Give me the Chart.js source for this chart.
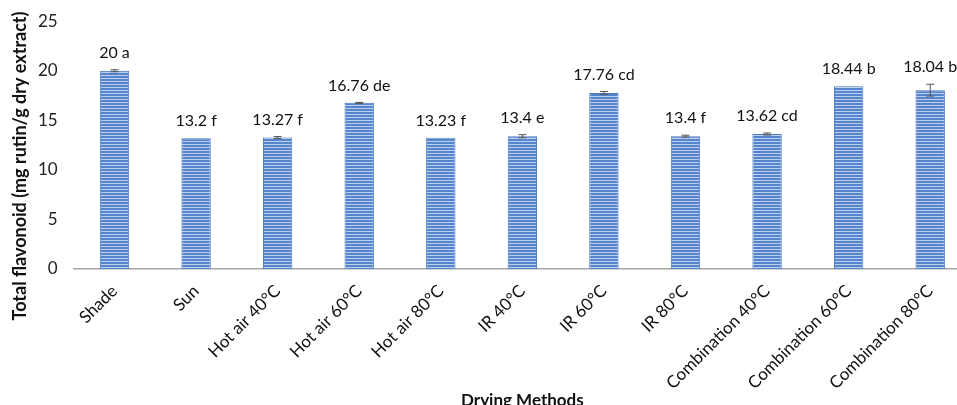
<!DOCTYPE html>
<html>
<head>
<meta charset="utf-8">
<script src="https://cdn.jsdelivr.net/npm/chart.js@4.4.1/dist/chart.umd.min.js"></script>
<style>
html,body{margin:0;padding:0;background:#fff;overflow:hidden;}
#wrap{width:975px;height:416px;margin-top:-5px;}
</style>
</head>
<body>
<div id="wrap"><canvas id="c" width="975" height="416"></canvas></div>
<script>
const categories = ['Shade','Sun','Hot air 40°C','Hot air 60°C','Hot air 80°C','IR 40°C','IR 60°C','IR 80°C','Combination 40°C','Combination 60°C','Combination 80°C'];
const values = [20, 13.2, 13.27, 16.76, 13.23, 13.4, 17.76, 13.4, 13.62, 18.44, 18.04];
const errors = [0.1, 0, 0.1, 0.05, 0, 0.15, 0.15, 0.1, 0.1, 0, 0.6];
const letters = ['a','f','f','de','f','e','cd','f','cd','b','b'];
const yTicks = [0, 5, 10, 15, 20, 25];
const yTitle = 'Total flavonoid (mg rutin/g dry extract)';
const xTitle = 'Drying Methods';

const FONT = 'Lato, "Open Sans", sans-serif';

const ctx0 = document.getElementById('c').getContext('2d');
const pat = ctx0.createPattern((function(){
  const p = document.createElement('canvas');
  p.width = 4; p.height = 3;
  const g = p.getContext('2d');
  g.fillStyle = '#5585cc';
  g.fillRect(0,0,4,3);
  g.fillStyle = '#bcd0ee';
  g.fillRect(0,2,4,1);
  return p;
})(),'repeat');

const errorAndLabels = {
  id: 'errorAndLabels',
  afterDatasetsDraw(chart){
    const ctx = chart.ctx;
    const meta = chart.getDatasetMeta(0);
    const ys = chart.scales.y;
    ctx.save();
    meta.data.forEach((bar, i) => {
      const v = values[i], e = errors[i];
      const x = bar.x;
      const yTop = ys.getPixelForValue(v + e);
      const yBot = ys.getPixelForValue(v - e);
      if (e > 0) {
        ctx.strokeStyle = '#555';
        ctx.lineWidth = 1;
        ctx.beginPath();
        ctx.moveTo(x, yTop); ctx.lineTo(x, yBot);
        ctx.moveTo(x - 4, yTop); ctx.lineTo(x + 4, yTop);
        ctx.moveTo(x - 4, yBot); ctx.lineTo(x + 4, yBot);
        ctx.stroke();
      }
      ctx.fillStyle = '#111';
      ctx.font = '16px ' + FONT;
      ctx.textAlign = 'center';
      ctx.textBaseline = 'bottom';
      ctx.fillText(String(v) + ' ' + letters[i], x, ys.getPixelForValue(v + e) - 9);
    });
    // y axis title
    ctx.save();
    ctx.translate(20, 171);
    ctx.rotate(-Math.PI / 2);
    ctx.font = 'bold 18px ' + FONT;
    ctx.fillStyle = '#111';
    ctx.textAlign = 'center';
    ctx.textBaseline = 'middle';
    ctx.fillText(yTitle, 0, 0);
    ctx.restore();
    ctx.restore();
  }
};

new Chart(ctx0, {
  type: 'bar',
  data: {
    labels: categories,
    datasets: [{
      data: values,
      backgroundColor: pat,
      borderColor: '#4a78c0',
      borderWidth: 1,
      barPercentage: 0.36,
      categoryPercentage: 1
    }]
  },
  options: {
    responsive: false,
    devicePixelRatio: 1,
    animation: false,
    layout: { padding: { top: 2, right: 4, left: 22, bottom: 0 } },
    plugins: { legend: { display: false }, tooltip: { enabled: false } },
    scales: {
      x: {
        grid: { display: false, drawTicks: false },
        border: { display: true, color: '#a6a6a6', width: 1.5 },
        ticks: { color: '#111', font: { size: 17, family: FONT }, maxRotation: 45, minRotation: 45, padding: 12, autoSkip: false },
        title: { display: true, text: xTitle, color: '#111', font: { size: 17, weight: 'bold', family: FONT }, padding: { top: 2, bottom: 0 } },
        afterFit(scale){ scale.height = 142; }
      },
      y: {
        min: 0, max: 25,
        afterBuildTicks(scale){ scale.ticks = yTicks.map(v => ({ value: v })); },
        grid: { display: false, drawTicks: false },
        border: { display: false },
        ticks: { color: '#222', font: { size: 17, family: FONT }, padding: 16 },
        title: { display: false }
      }
    }
  },
  plugins: [errorAndLabels]
});
</script>
</body>
</html>
